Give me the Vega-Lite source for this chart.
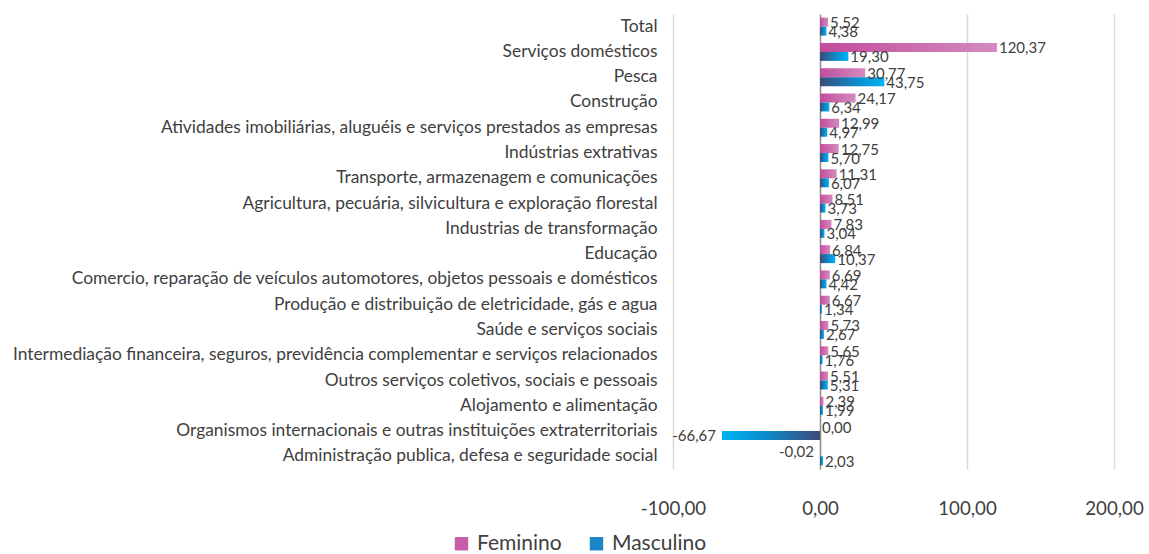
{
  "$schema": "https://vega.github.io/schema/vega-lite/v6.json",
  "autosize": "none",
  "width": 441,
  "height": 455,
  "padding": {"left": 673, "top": 14, "right": 35, "bottom": 85},
  "background": "white",
  "config": {
    "locale": {"number": {"decimal": ",", "thousands": ".", "grouping": [3], "currency": ["", ""], "minus": "-"}},
    "view": {"stroke": null},
    "font": "Lato"
  },
  "data": {
    "values": [
      {"categoria": "Total", "sexo": "Feminino", "valor": 5.52},
      {"categoria": "Total", "sexo": "Masculino", "valor": 4.38},
      {"categoria": "Serviços domésticos", "sexo": "Feminino", "valor": 120.37},
      {"categoria": "Serviços domésticos", "sexo": "Masculino", "valor": 19.30},
      {"categoria": "Pesca", "sexo": "Feminino", "valor": 30.77},
      {"categoria": "Pesca", "sexo": "Masculino", "valor": 43.75},
      {"categoria": "Construção", "sexo": "Feminino", "valor": 24.17},
      {"categoria": "Construção", "sexo": "Masculino", "valor": 6.34},
      {"categoria": "Atividades imobiliárias, aluguéis e serviços prestados as empresas", "sexo": "Feminino", "valor": 12.99},
      {"categoria": "Atividades imobiliárias, aluguéis e serviços prestados as empresas", "sexo": "Masculino", "valor": 4.97},
      {"categoria": "Indústrias extrativas", "sexo": "Feminino", "valor": 12.75},
      {"categoria": "Indústrias extrativas", "sexo": "Masculino", "valor": 5.70},
      {"categoria": "Transporte, armazenagem e comunicações", "sexo": "Feminino", "valor": 11.31},
      {"categoria": "Transporte, armazenagem e comunicações", "sexo": "Masculino", "valor": 6.07},
      {"categoria": "Agricultura, pecuária, silvicultura e exploração florestal", "sexo": "Feminino", "valor": 8.51},
      {"categoria": "Agricultura, pecuária, silvicultura e exploração florestal", "sexo": "Masculino", "valor": 3.73},
      {"categoria": "Industrias de transformação", "sexo": "Feminino", "valor": 7.83},
      {"categoria": "Industrias de transformação", "sexo": "Masculino", "valor": 3.04},
      {"categoria": "Educação", "sexo": "Feminino", "valor": 6.84},
      {"categoria": "Educação", "sexo": "Masculino", "valor": 10.37},
      {"categoria": "Comercio, reparação de veículos automotores, objetos pessoais e domésticos", "sexo": "Feminino", "valor": 6.69},
      {"categoria": "Comercio, reparação de veículos automotores, objetos pessoais e domésticos", "sexo": "Masculino", "valor": 4.42},
      {"categoria": "Produção e distribuição de eletricidade, gás e agua", "sexo": "Feminino", "valor": 6.67},
      {"categoria": "Produção e distribuição de eletricidade, gás e agua", "sexo": "Masculino", "valor": 1.34},
      {"categoria": "Saúde e serviços sociais", "sexo": "Feminino", "valor": 5.73},
      {"categoria": "Saúde e serviços sociais", "sexo": "Masculino", "valor": 2.67},
      {"categoria": "Intermediação financeira, seguros, previdência complementar e serviços relacionados", "sexo": "Feminino", "valor": 5.65},
      {"categoria": "Intermediação financeira, seguros, previdência complementar e serviços relacionados", "sexo": "Masculino", "valor": 1.76},
      {"categoria": "Outros serviços coletivos, sociais e pessoais", "sexo": "Feminino", "valor": 5.51},
      {"categoria": "Outros serviços coletivos, sociais e pessoais", "sexo": "Masculino", "valor": 5.31},
      {"categoria": "Alojamento e alimentação", "sexo": "Feminino", "valor": 2.39},
      {"categoria": "Alojamento e alimentação", "sexo": "Masculino", "valor": 1.99},
      {"categoria": "Organismos internacionais e outras instituições extraterritoriais", "sexo": "Feminino", "valor": 0.00},
      {"categoria": "Organismos internacionais e outras instituições extraterritoriais", "sexo": "Masculino", "valor": -66.67},
      {"categoria": "Administração publica, defesa e seguridade social", "sexo": "Feminino", "valor": -0.02},
      {"categoria": "Administração publica, defesa e seguridade social", "sexo": "Masculino", "valor": 2.03}
    ]
  },
  "encoding": {
    "y": {
      "field": "categoria", "type": "nominal", "sort": null,
      "scale": {"paddingInner": 0.29, "paddingOuter": 0.145},
      "axis": {"title": null, "ticks": false, "domain": false, "labelPadding": 16, "labelLimit": 0, "labelFontSize": 17.4, "labelColor": "#404040", "labelFont": "Lato"}
    },
    "yOffset": {"field": "sexo", "type": "nominal", "scale": {"domain": ["Feminino", "Masculino"], "paddingInner": 0, "paddingOuter": 0}},
    "x": {
      "field": "valor", "type": "quantitative",
      "scale": {"domain": [-100, 200], "nice": false, "zero": false},
      "axis": {
        "title": null, "values": [-100, 0, 100, 200], "format": ".2f",
        "ticks": false, "domain": false, "grid": true, "labelFlush": false,
        "gridColor": {"condition": {"test": "datum.value === 0", "value": "#8c8c8c"}, "value": "#d9d9d9"},
        "gridWidth": 1.5,
        "labelFontSize": 18.7, "labelColor": "#404040", "labelPadding": 30, "labelFont": "Lato"
      }
    }
  },
  "layer": [
    {
      "mark": {"type": "square", "opacity": 0, "size": 10},
      "encoding": {
        "color": {
          "field": "sexo", "type": "nominal",
          "scale": {"domain": ["Feminino", "Masculino"], "range": ["#c85ea8", "#1a86c8"]},
          "legend": {
            "title": null, "orient": "none", "direction": "horizontal",
            "legendX": -222, "legendY": 519,
            "symbolType": "square", "symbolSize": 180, "symbolStrokeWidth": 0, "symbolOpacity": 1,
            "labelFontSize": 21, "labelColor": "#404040", "labelFont": "Lato",
            "columnPadding": 24, "labelOffset": 5
          }
        }
      }
    },
    {
      "transform": [{"filter": "datum.sexo === 'Feminino'"}],
      "mark": {"type": "bar", "color": {"gradient": "linear", "x1": 0, "y1": 0, "x2": 1, "y2": 0, "stops": [{"offset": 0, "color": "#c34c9c"}, {"offset": 1, "color": "#d48bbf"}]}}
    },
    {
      "transform": [{"filter": "datum.sexo === 'Masculino' && datum.valor >= 0"}],
      "mark": {"type": "bar", "color": {"gradient": "linear", "x1": 0, "y1": 0, "x2": 1, "y2": 0, "stops": [{"offset": 0, "color": "#3c4a78"}, {"offset": 0.6, "color": "#0a8fd0"}, {"offset": 1, "color": "#00b4f2"}]}}
    },
    {
      "transform": [{"filter": "datum.sexo === 'Masculino' && datum.valor < 0"}],
      "mark": {"type": "bar", "color": {"gradient": "linear", "x1": 0, "y1": 0, "x2": 1, "y2": 0, "stops": [{"offset": 0, "color": "#00b4f2"}, {"offset": 0.4, "color": "#0a8fd0"}, {"offset": 1, "color": "#3c4a78"}]}}
    },
    {
      "transform": [{"filter": "datum.valor >= 0"}],
      "mark": {"type": "text", "align": "left", "baseline": "middle", "dx": 2, "dy": 1, "fontSize": 15, "color": "#404040", "font": "Lato"},
      "encoding": {"text": {"field": "valor", "type": "quantitative", "format": ".2f"}}
    },
    {
      "transform": [{"filter": "datum.valor < 0"}],
      "mark": {"type": "text", "align": "right", "baseline": "middle", "dx": -6, "dy": 0, "fontSize": 15, "color": "#404040", "font": "Lato"},
      "encoding": {"text": {"field": "valor", "type": "quantitative", "format": ".2f"}}
    }
  ]
}
